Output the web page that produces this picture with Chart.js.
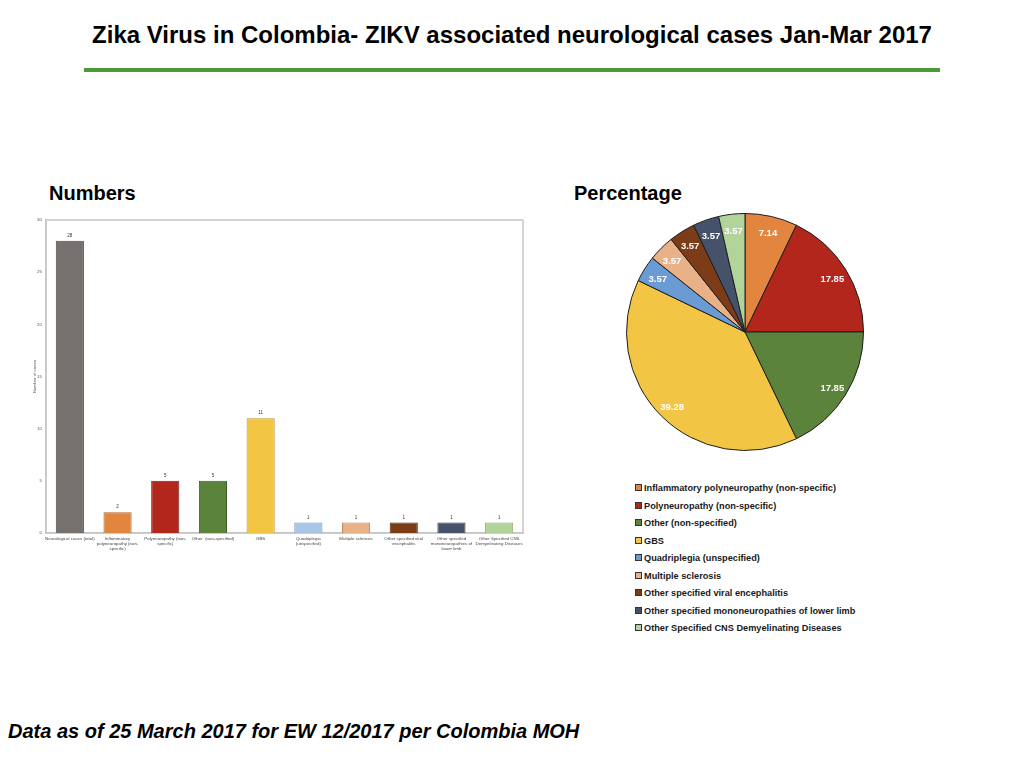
<!DOCTYPE html>
<html>
<head>
<meta charset="utf-8">
<script src="https://cdn.jsdelivr.net/npm/chart.js@4.4.1/dist/chart.umd.min.js"></script>
<style>
  body { margin: 0; background: #fff; font-family: "Liberation Sans", Arial, sans-serif; }
  #page { position: relative; width: 1024px; height: 768px; overflow: hidden; }
  .txt { position: absolute; line-height: 1; font-weight: bold; color: #000; white-space: nowrap; }
  #titulo { left: 0; width: 1024px; top: 23px; text-align: center; font-size: 24px; }
  #linha { position: absolute; left: 84px; top: 68px; width: 856px; height: 4px; background: #4c9a36; }
  #numeros { left: 49px; top: 183px; font-size: 20px; }
  #percent { left: 574px; top: 183px; font-size: 20px; }
  #rodape { left: 8px; top: 721px; font-size: 20px; font-style: italic; }
  #barras { position: absolute; left: 28px; top: 210px; }
  #pizza { position: absolute; left: 626px; top: 213px; }
  #legenda { position: absolute; left: 635px; top: 480px; font-size: 9.2px; font-weight: bold; color: #1a1a1a; }
  #legenda div { height: 17.5px; line-height: 17.5px; white-space: nowrap; }
  #legenda span { display: inline-block; width: 5px; height: 5px; border: 1px solid #333; margin-right: 2px; vertical-align: 0px; }
</style>
</head>
<body>
<div id="page">
  <div class="txt" id="titulo">Zika Virus in Colombia- ZIKV associated neurological cases Jan-Mar 2017</div>
  <div id="linha"></div>
  <div class="txt" id="numeros">Numbers</div>
  <div class="txt" id="percent">Percentage</div>
  <canvas id="barras" width="502" height="350"></canvas>
  <canvas id="pizza" width="238" height="238"></canvas>
  <div id="legenda"></div>
  <div class="txt" id="rodape">Data as of 25 March 2017 for EW 12/2017 per Colombia MOH</div>
</div>
<script>
// dados
const categorias = [
    'Neurological cases (total)',
    'Inflammatory polyneuropathy (non-specific)',
    'Polyneuropathy (non-specific)',
    'Other  (non-specified)',
    'GBS',
    'Quadriplegia  (unspecified)',
    'Multiple  sclerosis',
    'Other specified viral encephalitis',
    'Other specified mononeuropathies of lower limb',
    'Other Specified CNS Demyelinating Diseases'
];
const rotulosX = [
    ['Neurological cases (total)'],
    ['Inflammatory', 'polyneuropathy (non-', 'specific)'],
    ['Polyneuropathy (non-', 'specific)'],
    ['Other  (non-specified)'],
    ['GBS'],
    ['Quadriplegia', '(unspecified)'],
    ['Multiple sclerosis'],
    ['Other specified viral', 'encephalitis'],
    ['Other specified', 'mononeuropathies of', 'lower limb'],
    ['Other Specified CNS', 'Demyelinating Diseases']
];
const numeroCasos = [28, 2, 5, 5, 11, 1, 1, 1, 1, 1];
const ticksY = [0, 5, 10, 15, 20, 25, 30];

const categoriasPizza = categorias.slice(1);
const percentuais = [7.14, 17.85, 17.85, 39.28, 3.57, 3.57, 3.57, 3.57, 3.57];

const coresBarras = ['#76716f', '#e2853f', '#b2261c', '#5c833b', '#f3c545', '#a9c6e6', '#e9b188', '#7b3c17', '#45526a', '#b2d49b'];
const bordasBarras = ['#4f4b4a', '#b0642b', '#7e1a13', '#3f5c28', '#b8922c', '#7896b6', '#b68460', '#52270e', '#2e384a', '#86a872'];
const coresPizza = ['#e2853f', '#b2261c', '#5c833b', '#f3c545', '#6b9bd4', '#e9b188', '#7b3c17', '#45526a', '#b2d49b'];

const fonte = '"Liberation Sans", Arial, sans-serif';

const molduraPlugin = {
    id: 'moldura',
    beforeDatasetsDraw(chart) {
        const a = chart.chartArea;
        const ctx = chart.ctx;
        ctx.save();
        ctx.strokeStyle = '#c6c6c6';
        ctx.lineWidth = 1.5;
        ctx.strokeRect(a.left, a.top, a.right - a.left, a.bottom - a.top);
        ctx.restore();
    }
};

const valoresPlugin = {
    id: 'valores',
    afterDatasetsDraw(chart) {
        const ctx = chart.ctx;
        const meta = chart.getDatasetMeta(0);
        ctx.save();
        ctx.font = '4.5px ' + fonte;
        ctx.fillStyle = '#333';
        ctx.textAlign = 'center';
        ctx.textBaseline = 'bottom';
        meta.data.forEach((bar, i) => {
            ctx.fillText(String(chart.data.datasets[0].data[i]), bar.x, bar.y - 3);
        });
        ctx.restore();
    }
};

const rotulosPizzaPlugin = {
    id: 'rotulosPizza',
    afterDatasetsDraw(chart) {
        const ctx = chart.ctx;
        const meta = chart.getDatasetMeta(0);
        ctx.save();
        ctx.font = 'bold 9.5px ' + fonte;
        ctx.fillStyle = '#fff';
        ctx.textAlign = 'center';
        ctx.textBaseline = 'middle';
        meta.data.forEach((arc, i) => {
            const p = arc.getProps(['x', 'y', 'startAngle', 'endAngle', 'outerRadius'], true);
            const meio = (p.startAngle + p.endAngle) / 2;
            const r = p.outerRadius * 0.87;
            ctx.fillText(chart.data.datasets[0].data[i].toFixed(2), p.x + Math.cos(meio) * r, p.y + Math.sin(meio) * r + 2);
        });
        ctx.restore();
    }
};

new Chart(document.getElementById('barras').getContext('2d'), {
    type: 'bar',
    data: {
        labels: rotulosX,
        datasets: [{
            label: 'Number of cases',
            data: numeroCasos,
            backgroundColor: coresBarras,
            borderColor: bordasBarras,
            borderWidth: 1,
            categoryPercentage: 1,
            barPercentage: 0.59
        }]
    },
    options: {
        responsive: false,
        animation: false,
        layout: { padding: { top: 10, right: 7, left: 4, bottom: 0 } },
        plugins: { legend: { display: false }, tooltip: { enabled: false } },
        scales: {
            x: {
                grid: { display: false, drawTicks: false },
                border: { display: true, color: '#c6c6c6', width: 1.5 },
                ticks: { color: '#444', font: { size: 4.4, family: fonte }, maxRotation: 0, autoSkip: false, padding: 3 },
                afterFit(scale) { scale.height = 27; }
            },
            y: {
                min: 0,
                max: 30,
                afterBuildTicks(scale) { scale.ticks = ticksY.map(v => ({ value: v })); },
                grid: { display: false, drawTicks: false },
                border: { display: true, color: '#c6c6c6', width: 1.5 },
                ticks: { color: '#555', font: { size: 4.4, family: fonte }, padding: 4 },
                title: { display: true, text: 'Number of cases', color: '#555', font: { size: 4.4, family: fonte }, padding: 0 },
                afterFit(scale) { scale.width = 14; }
            }
        }
    },
    plugins: [molduraPlugin, valoresPlugin]
});

const grafPizza = new Chart(document.getElementById('pizza').getContext('2d'), {
    type: 'pie',
    data: {
        labels: categoriasPizza,
        datasets: [{
            data: percentuais,
            backgroundColor: coresPizza,
            borderColor: '#1e1e1e',
            borderWidth: 1
        }]
    },
    options: {
        responsive: false,
        animation: false,
        plugins: { legend: { display: false }, tooltip: { enabled: false } }
    },
    plugins: [rotulosPizzaPlugin]
});

// legenda em html a partir dos itens do proprio grafico
const itens = grafPizza.options.plugins.legend.labels.generateLabels(grafPizza);
const legenda = document.getElementById('legenda');
itens.forEach(item => {
    const linha = document.createElement('div');
    const caixa = document.createElement('span');
    caixa.style.background = item.fillStyle;
    linha.appendChild(caixa);
    linha.appendChild(document.createTextNode(item.text));
    legenda.appendChild(linha);
});
</script>
</body>
</html>
